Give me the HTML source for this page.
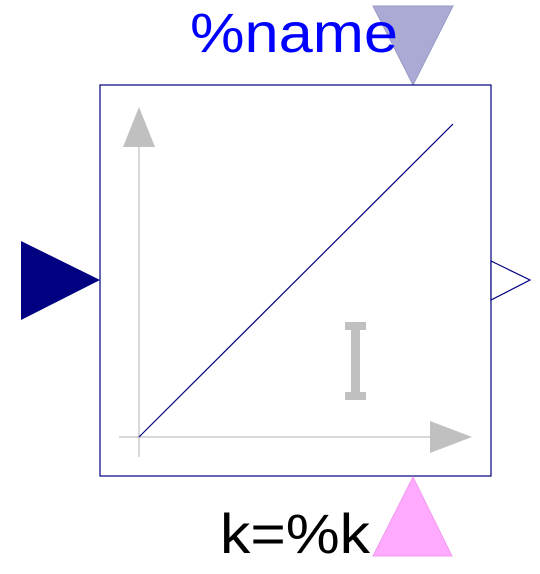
<!DOCTYPE html>
<html><head><meta charset="utf-8"><style>
html,body{margin:0;padding:0;background:#fff;width:540px;height:574px;overflow:hidden}
svg{display:block}
</style></head><body>
<svg width="540" height="574" viewBox="0 0 540 574" xmlns="http://www.w3.org/2000/svg">
  <polygon points="373,6 453,6 413,85" fill="#aaaad5" stroke="#9a9ac8" stroke-width="1"/>
  <text x="190" y="52" textLength="208" lengthAdjust="spacingAndGlyphs" font-family="Liberation Sans, sans-serif" font-size="56" fill="#0000ff">%name</text>
  <rect x="100" y="85" width="391" height="391" fill="#fff" stroke="#000080" stroke-width="1.2"/>
  <line x1="139" y1="145" x2="139" y2="457" stroke="#c0c0c0" stroke-width="1.2"/>
  <polygon points="139,107 123,147 155,147" fill="#c0c0c0"/>
  <line x1="119" y1="437" x2="432" y2="437" stroke="#c0c0c0" stroke-width="1.2"/>
  <polygon points="472,437 430,421 430,453" fill="#c0c0c0"/>
  <line x1="139" y1="437" x2="453" y2="124" stroke="#000080" stroke-width="1.2"/>
  <g fill="#c0c0c0">
    <rect x="345" y="322" width="21" height="8"/>
    <rect x="351" y="322" width="9" height="78"/>
    <rect x="345" y="392" width="21" height="8"/>
  </g>
  <polygon points="21,241 100,280 21,320" fill="#000080"/>
  <polygon points="491,261 530,280 491,300" fill="#fff" stroke="#000080" stroke-width="1.2"/>
  <polygon points="413,477 452,556 373,556" fill="#ffaaff" stroke="#f09af0" stroke-width="1"/>
  <text x="220" y="553" textLength="150" lengthAdjust="spacingAndGlyphs" font-family="Liberation Sans, sans-serif" font-size="56" fill="#000">k=%k</text>
</svg>
</body></html>
